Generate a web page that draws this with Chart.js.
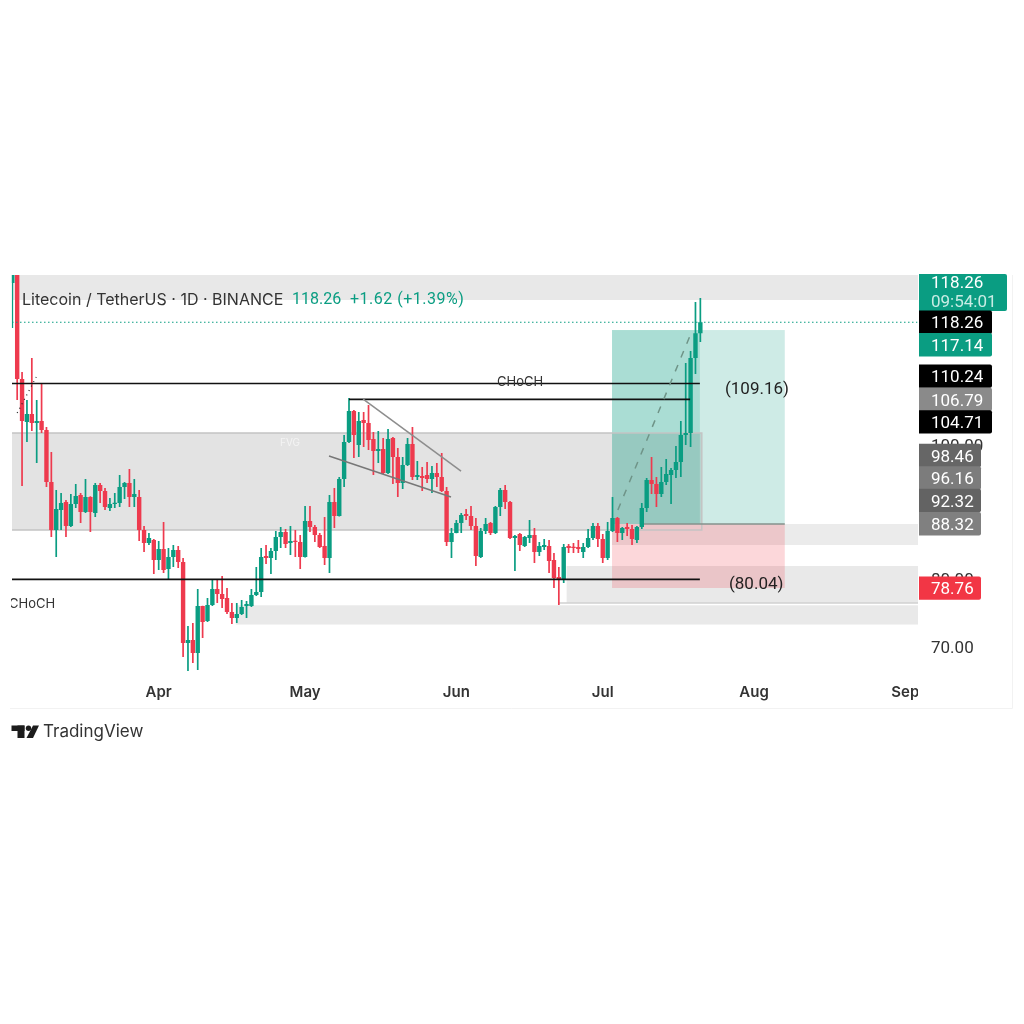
<!DOCTYPE html>
<html>
<head>
<meta charset="utf-8">
<title>Litecoin / TetherUS</title>
<script src="https://cdn.jsdelivr.net/npm/chart.js@4/dist/chart.umd.min.js"></script>
<style>
  html, body { margin: 0; background: #fff; }
  canvas { display: block; }
</style>
</head>
<body>
<canvas id="priceChart" width="1024" height="1024"></canvas>
<script>
// daily candles, first bar is 2 March, index = days since then
const opens = [
  124.09,126.5,109.82,103.43,104.62,103.28,103.58,102.24,94.52,87.39,
  90.36,91.55,87.98,91.25,92.59,90.06,92.29,89.91,94.07,93.18,
  90.65,91.25,91.40,93.77,94.37,92.29,92.29,87.39,85.45,85.90,
  82.93,84.56,81.59,83.37,84.41,82.63,70.59,71.04,69.11,76.09,
  73.86,76.24,78.62,77.88,77.28,75.20,74.31,74.90,76.09,76.09,
  77.73,78.17,83.52,83.22,84.26,86.34,87.09,85.45,85.75,85.60,
  83.37,88.72,87.83,86.64,85.01,83.22,91.55,89.47,94.96,100.46,
  105.07,100.02,103.73,103.28,100.91,99.12,99.42,95.85,101.06,98.23,
  94.37,97.04,100.16,95.26,95.41,95.56,94.96,95.85,95.26,93.18,
  85.60,86.94,88.43,89.76,89.47,87.98,83.37,87.24,88.43,86.94,
  90.80,93.33,91.55,86.20,86.79,85.01,86.20,86.64,84.12,84.86,
  85.01,82.93,80.40,80.10,85.01,84.86,84.86,84.12,84.86,86.20,
  87.98,86.05,83.22,87.24,89.17,86.94,87.83,87.53,85.90,87.83,
  90.65,94.81,94.22,92.73,94.52,95.56,96.30,97.49,101.50,101.80,112.94,116.64
];
const closes = [
  126.5,109.82,103.58,104.62,103.28,103.58,102.24,94.52,87.39,90.51,
  91.40,87.98,91.25,92.44,90.06,92.29,90.06,94.07,93.18,90.80,
  91.25,91.40,93.77,94.37,92.29,92.73,87.39,85.45,86.20,82.93,
  84.56,81.44,83.37,84.41,82.63,70.59,71.04,69.11,76.09,73.71,
  76.24,78.62,77.88,77.13,75.20,74.31,74.90,75.94,76.39,77.73,
  78.17,83.37,83.22,84.26,86.34,87.09,85.30,85.75,85.60,83.37,
  88.72,87.83,86.64,84.86,83.22,91.55,89.47,94.96,100.46,105.07,
  101.50,103.58,103.28,100.76,99.12,99.42,95.85,100.91,98.23,94.37,
  97.04,100.16,95.26,95.56,95.11,94.96,95.85,95.26,93.18,85.60,
  86.94,88.43,89.61,89.47,87.98,83.52,87.24,88.28,86.94,90.80,
  93.33,91.55,86.20,86.49,85.16,86.34,86.64,84.12,85.01,85.16,
  82.78,80.25,80.10,84.86,84.71,84.71,84.56,84.86,86.20,87.98,
  86.05,83.22,87.24,89.17,86.94,87.68,87.53,86.05,87.83,90.65,
  94.81,94.22,92.73,94.52,95.71,96.30,97.49,101.50,101.80,112.94,116.64,118.26
];
const highs = [
  127,128,110.86,106.70,112.94,106.70,109.08,102.69,98.98,93.33,
  92.88,91.84,92.73,94.22,92.88,94.96,92.40,94.37,94.37,93.63,
  92.14,92.88,95.56,94.52,96.45,94.96,93.33,87.98,86.94,86.05,
  85.75,88.57,84.71,85.16,85.01,83.22,73.12,73.57,78.62,76.15,
  77.28,80.10,80.10,80.55,78.77,76.54,76.54,76.98,76.84,78.62,
  81.89,84.71,85.16,84.71,87.24,87.83,87.53,87.98,87.39,86.64,
  90.95,90.95,88.13,86.94,89.32,92.59,93.63,95.26,101.50,107.00,
  105.22,104.92,104.92,105.96,101.95,102.10,101.06,102.39,101.20,99.57,
  98.23,101.06,102.69,97.64,96.75,97.49,96.89,97.34,98.83,93.77,
  87.68,88.87,89.91,90.51,90.95,89.17,87.68,89.17,88.57,90.95,
  93.63,94.07,91.69,86.64,86.94,86.49,88.87,87.68,85.60,86.05,
  85.90,83.97,81.89,85.30,85.30,85.45,85.90,85.45,87.53,88.43,
  88.43,86.79,88.57,92.29,89.32,87.83,88.43,88.13,87.98,91.40,
  95.11,98.23,95.26,96.75,97.94,96.60,99.87,103.58,112.20,113.98,121.26,121.86
];
const lows = [
  117.40,106.70,93.92,100.46,102.10,97.34,101.80,93.77,86.34,83.37,
  87.39,86.34,87.83,90.65,88.43,89.91,87.09,89.32,91.40,90.36,
  90.21,90.65,90.80,91.99,90.80,90.80,85.75,84.12,85.16,80.85,
  81.44,81.00,80.10,81.89,81.74,68.51,66.43,67.62,66.58,71.34,
  73.71,76.09,76.54,75.80,74.90,73.42,73.57,74.75,74.31,75.94,
  77.58,77.43,82.33,80.85,82.93,84.71,84.71,83.67,83.37,81.59,
  83.30,87.09,85.60,84.71,82.18,81.00,87.68,89.40,93.77,100.31,
  98.08,98.23,99.72,99.27,95.56,97.34,95.71,95.70,94.22,92.29,
  93.48,96.89,94.81,94.81,93.18,94.37,92.88,93.77,93.03,85.01,
  83.22,86.90,86.94,88.87,87.39,82.04,83.22,86.79,86.64,86.79,
  89.47,90.51,86.05,81.29,84.26,84.86,85.45,82.48,83.52,84.41,
  81.00,78.77,76.24,79.51,83.97,83.97,83.97,83.22,84.71,85.90,
  84.86,82.48,82.93,87.09,85.60,85.90,86.49,85.16,85.45,87.53,
  90.06,92.73,90.80,92.29,94.07,91.25,95.11,95.26,100.02,99.72,110.57,115.32
];

const monthDays = [30, 60, 91, 121, 152, 183];
const monthNames = ['Apr', 'May', 'Jun', 'Jul', 'Aug', 'Sep'];

// right hand price tags, top to bottom
const tagValues = [118.26, 117.14, 110.24, 106.79, 104.71, 98.46, 96.16, 92.32, 88.32, 78.76];
const tagFills = ['#000000', '#0a9d82', '#000000', '#8a8a8a', '#000000', '#666666', '#7c7c7c', '#636363', '#808080', '#f23645'];

// shaded zones: start day, end day, upper price, lower price
const zoneStart = [-0.06, -0.06, 122.9, 113.6, 45.8, 122.9, 122.9, 122.9];
const zoneEnd = [185.6, 141.3, 185.6, 185.6, 185.6, 158.3, 140.9, 158.3];
const zoneTop = [125.28, 101.80, 88.28, 82.04, 76.20, 117.10, 117.10, 88.28];
const zoneBottom = [121.56, 87.39, 85.16, 76.54, 73.34, 88.28, 88.28, 78.77];
const zoneFills = ['#e8e8e8', '#e3e3e3', '#ebebeb', '#e9e9e9', '#e9e9e9',
  'rgba(8,153,129,0.2)', 'rgba(8,153,129,0.18)', 'rgba(242,54,69,0.2)'];

// horizontal levels: price, start day, end day
const levelPrices = [109.16, 106.79, 80.04];
const levelStart = [-0.06, 69, -0.06];
const levelEnd = [140.9, 138.9, 140.9];

const wedgeUpperDays = [71.9, 91.96];
const wedgeUpperPrices = [106.85, 96.15];
const wedgeLowerDays = [64.9, 89.9];
const wedgeLowerPrices = [98.38, 92.29];
const tradeDays = [124.1, 139.2];
const tradePrices = [90.36, 116.81];
const dottedDays = [1, 4.9];
const dottedPrices = [104.77, 110.12];
const lastClose = 118.26;

const GREEN = '#0a9d82';
const RED = '#ee3a4e';
const FONT = 'Inter, "Noto Sans", sans-serif';
const NUM_FONT = 'Roboto, sans-serif';

const days = opens.map((_, i) => i);
const candleColors = closes.map((c, i) => c >= opens[i] ? GREEN : RED);

function segment(xs, ys, color, width, dash) {
  return {
    type: 'line',
    data: xs.map((x, i) => ({ x: x, y: ys[i] })),
    borderColor: color,
    borderWidth: width,
    borderDash: dash || [],
    pointRadius: 0,
    tension: 0,
    order: 0
  };
}

const overlays = [
  segment([zoneStart[0], zoneEnd[0]], [lastClose, lastClose], GREEN, 1.2, [1.5, 2.5]),
  segment(wedgeUpperDays, wedgeUpperPrices, '#8d8d8d', 1.5),
  segment(wedgeLowerDays, wedgeLowerPrices, '#777777', 1.5),
  segment(tradeDays, tradePrices, '#6f9488', 1.5, [7, 8]),
  segment(dottedDays, dottedPrices, '#222222', 1.2, [1, 4])
];
levelPrices.forEach((p, i) => {
  overlays.push(segment([levelStart[i], levelEnd[i]], [p, p], '#111111', 1.7));
});

function hline(ctx, x1, x2, yy) {
  ctx.beginPath();
  ctx.moveTo(x1, yy);
  ctx.lineTo(x2, yy);
  ctx.stroke();
}

// zones sit under the candles
const zonesPlugin = {
  id: 'zones',
  beforeDatasetsDraw(chart) {
    const { ctx, scales: { x, y } } = chart;
    ctx.save();
    zoneStart.forEach((start, i) => {
      const left = x.getPixelForValue(start);
      const top = y.getPixelForValue(zoneTop[i]);
      ctx.fillStyle = zoneFills[i];
      ctx.fillRect(left, top, x.getPixelForValue(zoneEnd[i]) - left, y.getPixelForValue(zoneBottom[i]) - top);
    });
    // edges of the big grey zone, no edge on its left
    const zoneLeft = x.getPixelForValue(zoneStart[1]);
    const zoneRight = x.getPixelForValue(zoneEnd[1]);
    const zoneUpper = y.getPixelForValue(zoneTop[1]);
    const zoneLower = y.getPixelForValue(zoneBottom[1]);
    ctx.strokeStyle = '#c4c4c4';
    ctx.lineWidth = 1.5;
    ctx.beginPath();
    ctx.moveTo(zoneLeft, zoneUpper);
    ctx.lineTo(zoneRight, zoneUpper);
    ctx.lineTo(zoneRight, zoneLower);
    ctx.lineTo(zoneLeft, zoneLower);
    ctx.stroke();
    // rule under the lower band, and the entry line of the position box
    ctx.strokeStyle = '#d0d0d0';
    hline(ctx, x.getPixelForValue(112), x.getPixelForValue(zoneEnd[3]), y.getPixelForValue(zoneBottom[3]));
    ctx.strokeStyle = '#85928c';
    hline(ctx, x.getPixelForValue(129.2), x.getPixelForValue(zoneEnd[7]), y.getPixelForValue(zoneTop[7]));
    ctx.restore();
  }
};

function drawTag(ctx, left, centre, w, h, fill) {
  ctx.fillStyle = fill;
  ctx.beginPath();
  ctx.roundRect(left, centre - h / 2, w, h, [0, 2, 2, 0]);
  ctx.fill();
}

function drawLogo(ctx) {
  ctx.fillStyle = '#1c1c1c';
  ctx.fillRect(11.5, 725.5, 13, 5.5);
  ctx.fillRect(17.5, 725.5, 7, 12.5);
  ctx.beginPath();
  ctx.arc(28.5, 728.2, 2.7, 0, Math.PI * 2);
  ctx.fill();
  ctx.beginPath();
  ctx.moveTo(33, 725.5);
  ctx.lineTo(39, 725.5);
  ctx.lineTo(33, 738);
  ctx.lineTo(26.5, 738);
  ctx.closePath();
  ctx.fill();
}

const annotationsPlugin = {
  id: 'annotations',
  afterDraw(chart) {
    const { ctx, scales: { y } } = chart;
    ctx.save();
    ctx.textBaseline = 'middle';

    // month labels stop at the price axis
    ctx.fillStyle = '#ffffff';
    ctx.fillRect(918, 681, 93, 26);

    // legend line
    ctx.font = '16px ' + FONT;
    ctx.fillStyle = '#333333';
    ctx.fillText('Litecoin / TetherUS · 1D · BINANCE', 22, 300);
    ctx.font = '16px ' + NUM_FONT;
    ctx.fillStyle = GREEN;
    ctx.fillText('118.26', 292, 300);
    ctx.letterSpacing = '0.5px';
    ctx.fillText('+1.62 (+1.39%)', 350, 300);
    ctx.letterSpacing = '0px';

    // chart notes
    ctx.fillStyle = '#333333';
    ctx.font = '13px ' + FONT;
    ctx.fillText('CHoCH', 497, 382);
    ctx.save();
    ctx.beginPath();
    ctx.rect(11, 590, 60, 30);
    ctx.clip();
    ctx.fillText('CHoCH', 9, 604);
    ctx.restore();
    ctx.fillStyle = '#f4f4f4';
    ctx.font = '10px ' + FONT;
    ctx.fillText('FVG', 280, 443);
    ctx.fillStyle = '#222222';
    ctx.font = '17px ' + NUM_FONT;
    ctx.fillText('(109.16)', 725, 389.5);
    ctx.fillText('(80.04)', 729, 584.5);

    // price tags are pushed down when they would overlap the one above
    const tagH = 22.5;
    drawTag(ctx, 919, 292.5, 88, 37, GREEN);
    ctx.font = '17px ' + NUM_FONT;
    ctx.fillStyle = '#ffffff';
    ctx.fillText('118.26', 931, 283.5);
    ctx.fillStyle = '#c8ece4';
    ctx.fillText('09:54:01', 931, 302.5);
    let prevBottom = 0;
    tagValues.forEach((value, i) => {
      const centre = Math.max(y.getPixelForValue(value), prevBottom + tagH / 2);
      prevBottom = centre + tagH / 2;
      drawTag(ctx, 919, centre, value > 100 ? 73 : 62, tagH + 0.8, tagFills[i]);
      ctx.fillStyle = '#ffffff';
      ctx.fillText(value.toFixed(2), 931, centre + 2);
    });

    // panel outline and watermark
    ctx.strokeStyle = '#f2f2f2';
    ctx.lineWidth = 1;
    ctx.beginPath();
    ctx.moveTo(10, 708.5);
    ctx.lineTo(1012.5, 708.5);
    ctx.lineTo(1012.5, 275);
    ctx.stroke();
    drawLogo(ctx);
    ctx.fillStyle = '#333333';
    ctx.font = '17px ' + FONT;
    ctx.fillText('TradingView', 43, 731.5);
    ctx.restore();
  }
};

const ctx = document.getElementById('priceChart').getContext('2d');
const chart = new Chart(ctx, {
  type: 'bar',
  data: {
    datasets: [
      {
        label: 'Wick',
        data: days.map(i => ({ x: i, y: [lows[i], highs[i]] })),
        backgroundColor: candleColors,
        barThickness: 1.7,
        grouped: false,
        inflateAmount: 0,
        clip: { left: -2, top: 0, right: 0, bottom: 0 },
        order: 2
      },
      {
        label: 'Body',
        data: days.map(i => ({ x: i, y: [opens[i], closes[i]] })),
        backgroundColor: candleColors,
        barThickness: 4.4,
        grouped: false,
        inflateAmount: 0,
        minBarLength: 1.2,
        clip: { left: -2, top: 0, right: 0, bottom: 0 },
        order: 1
      },
      ...overlays
    ]
  },
  options: {
    responsive: false,
    animation: false,
    layout: { padding: { left: 9.86, right: 12, top: 275, bottom: 316 } },
    plugins: {
      legend: { display: false },
      tooltip: { enabled: false }
    },
    scales: {
      x: {
        type: 'linear',
        min: -0.5,
        max: 185.5,
        offset: false,
        grid: { display: false, drawTicks: false, offset: false },
        border: { display: false },
        afterBuildTicks(scale) { scale.ticks = monthDays.map(d => ({ value: d })); },
        afterFit(scale) { scale.height = 28; },
        ticks: {
          autoSkip: false,
          maxRotation: 0,
          padding: 3,
          color: '#333333',
          font: { family: FONT, size: 15, weight: '600' },
          callback: value => monthNames[monthDays.indexOf(value)]
        }
      },
      y: {
        position: 'right',
        min: 65.10,
        max: 125.28,
        grid: { display: false, drawTicks: false },
        border: { display: false },
        afterFit(scale) { scale.width = 94.5; },
        ticks: {
          stepSize: 10,
          includeBounds: false,
          padding: 13.5,
          labelOffset: 1.5,
          color: '#333333',
          font: { family: NUM_FONT, size: 17 },
          callback: value => value.toFixed(2)
        }
      }
    }
  },
  plugins: [zonesPlugin, annotationsPlugin]
});
</script>
</body>
</html>
